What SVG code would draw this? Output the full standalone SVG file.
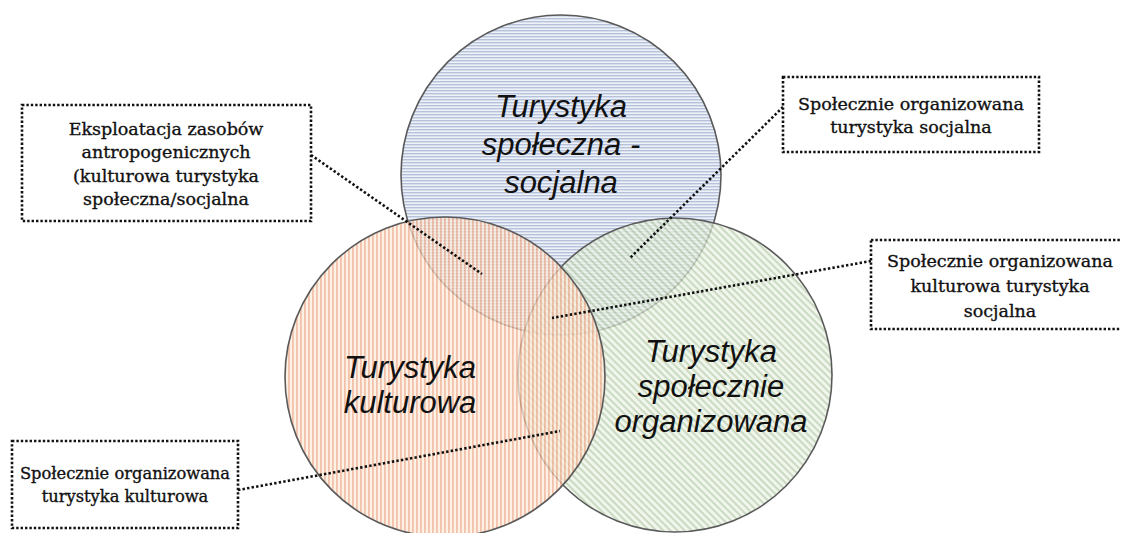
<svg xmlns="http://www.w3.org/2000/svg" width="1121" height="533" viewBox="0 0 1121 533">
<style>
.circ{stroke:#5a5a5a;stroke-width:1.6;fill-opacity:0.75}
.ctext{font-family:"Liberation Sans",Arial,sans-serif;font-style:italic;font-size:31px;fill:#111;text-anchor:middle}
.box{fill:#fff;stroke:#111;stroke-width:2.6;stroke-dasharray:2.4 2}
.btext{font-family:"DejaVu Serif","Liberation Serif",serif;font-size:17.5px;fill:#111;stroke:#111;stroke-width:0.35;text-anchor:middle}
.small{font-size:16.3px}
.conn{fill:none;stroke:#111;stroke-width:2.6;stroke-dasharray:2.4 2.2}
</style>
<defs>
<pattern id="pBlue" patternUnits="userSpaceOnUse" width="3" height="3">
<rect width="3" height="3" fill="#e8edf6"/>
<rect width="3" height="1.4" fill="#9eaed0"/>
</pattern>
<pattern id="pOrange" patternUnits="userSpaceOnUse" width="4" height="4">
<rect width="4" height="4" fill="#fcebdc"/>
<rect width="1.8" height="4" fill="#eeae8e"/>
</pattern>
<pattern id="pGreen" patternUnits="userSpaceOnUse" width="5" height="5" patternTransform="rotate(45)">
<rect width="5" height="5" fill="#edf4e7"/>
<rect width="5" height="2.1" fill="#b9cdae"/>
</pattern>
</defs>
<rect width="1121" height="533" fill="#fff"/>
<g id="circle-spoleczna">
<circle class="circ" cx="561" cy="175" r="160" fill="url(#pBlue)"/>
<text class="ctext" x="561" y="117">Turystyka</text>
<text class="ctext" x="561" y="155">społeczna -</text>
<text class="ctext" x="561" y="193">socjalna</text>
</g>
<g id="circle-organizowana">
<circle class="circ" cx="675" cy="375" r="157" fill="url(#pGreen)"/>
<text class="ctext" x="711" y="362">Turystyka</text>
<text class="ctext" x="711" y="397">społecznie</text>
<text class="ctext" x="711" y="432">organizowana</text>
</g>
<g id="circle-kulturowa">
<circle class="circ" cx="445" cy="377" r="160" fill="url(#pOrange)"/>
<text class="ctext" x="410" y="378">Turystyka</text>
<text class="ctext" x="410" y="413">kulturowa</text>
</g>
<g id="connectors">
<line class="conn" x1="311" y1="155" x2="482" y2="274"/>
<line class="conn" x1="783" y1="107" x2="630" y2="258"/>
<line class="conn" x1="871" y1="261" x2="552" y2="318"/>
<line class="conn" x1="238" y1="490" x2="560" y2="431"/>
</g>
<g id="box-eksploatacja">
<rect class="box" x="22" y="105" width="289" height="116"/>
<text class="btext" x="166" y="135">Eksploatacja zasobów</text>
<text class="btext" x="166" y="158">antropogenicznych</text>
<text class="btext" x="166" y="182">(kulturowa turystyka</text>
<text class="btext" x="166" y="205">społeczna/socjalna</text>
</g>
<g id="box-socjalna">
<rect class="box" x="783" y="77" width="256" height="75"/>
<text class="btext" x="911" y="110">Społecznie organizowana</text>
<text class="btext" x="911" y="133">turystyka socjalna</text>
</g>
<g id="box-kulturowa-socjalna">
<rect class="box" x="871" y="240" width="260" height="89"/>
<text class="btext" x="1000" y="267">Społecznie organizowana</text>
<text class="btext" x="1000" y="292">kulturowa turystyka</text>
<text class="btext" x="1000" y="317">socjalna</text>
</g>
<g id="box-kulturowa">
<rect class="box" x="12" y="441" width="226" height="87"/>
<text class="btext small" x="125" y="479">Społecznie organizowana</text>
<text class="btext small" x="125" y="502">turystyka kulturowa</text>
</g>
</svg>
